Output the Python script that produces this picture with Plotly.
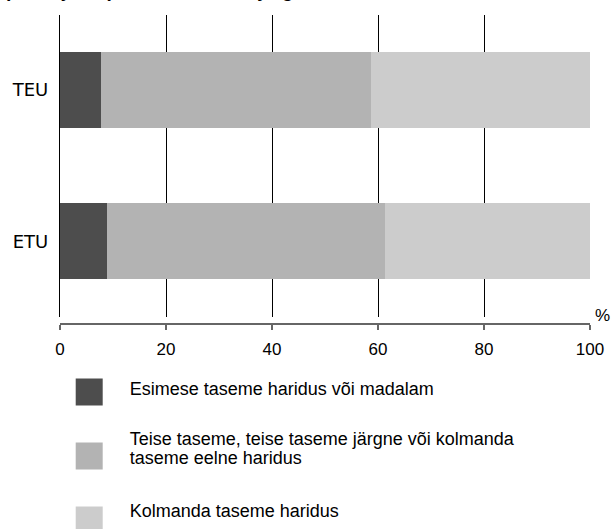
import plotly.graph_objects as go

# ---- data ----
categories = ["TEU", "ETU"]
series_names = [
    "Esimese taseme haridus või madalam",
    "Teise taseme, teise taseme järgne või kolmanda taseme eelne haridus",
    "Kolmanda taseme haridus",
]
legend_lines = [
    ["Esimese taseme haridus või madalam"],
    ["Teise taseme, teise taseme järgne või kolmanda", "taseme eelne haridus"],
    ["Kolmanda taseme haridus"],
]
primary = [7.8, 8.8]
secondary = [50.8, 52.6]
tertiary = [41.4, 38.6]
series_values = [primary, secondary, tertiary]
colors = ["#4d4d4d", "#b3b3b3", "#cccccc"]
x_ticks = [0, 20, 40, 60, 80, 100]
title_text = "(% tööjõust) haridustaseme järgi, 2008"

W, H = 614, 529
left_px, right_px = 60.3, 590.3
plot_top_px, plot_bottom_px = 14.5, 317.0
axis_px = 324.0

def py(px):
    return 1 - px / H

fig = go.Figure()

for name, vals, col in zip(series_names, series_values, colors):
    fig.add_trace(go.Bar(
        y=categories, x=vals, name=name, orientation="h",
        marker=dict(color=col, line=dict(width=0)),
        showlegend=False, hoverinfo="x+name",
    ))

# legend drawn in its own small subplot (pixel-scaled axes)
row_swatch_y = [392 + 64 * i for i in range(3)]
fig.add_trace(go.Scatter(
    x=[89.5] * 3, y=row_swatch_y, mode="markers",
    marker=dict(symbol="square", size=27, color=colors, line=dict(width=0)),
    xaxis="x3", yaxis="y3", showlegend=False, hoverinfo="skip", cliponaxis=False,
))
text_y = []
text_s = []
line_offsets = [[-1.5], [-15, 3.5], [-7]]
for i, lines in enumerate(legend_lines):
    for ln, off in zip(lines, line_offsets[i]):
        text_y.append(row_swatch_y[i] + off)
        text_s.append(ln)
fig.add_trace(go.Scatter(
    x=[130] * len(text_s), y=text_y, mode="text", text=text_s,
    textposition="middle right",
    textfont=dict(family="Liberation Sans, Arial", size=18, color="#000000"),
    xaxis="x3", yaxis="y3", showlegend=False, hoverinfo="skip", cliponaxis=False,
))

fig.update_layout(
    width=W, height=H,
    margin=dict(l=left_px, r=W - right_px, t=0, b=0),
    paper_bgcolor="white", plot_bgcolor="white",
    barmode="stack", bargap=0.497,
    showlegend=False,
    xaxis=dict(
        range=[0, 100], tickvals=x_ticks, ticktext=[str(v) for v in x_ticks],
        showgrid=True, gridcolor="#000000", gridwidth=1,
        zeroline=False, showline=True, linecolor="#666666", linewidth=1.5,
        ticks="outside", ticklen=5, tickcolor="#666666", tickwidth=1.5,
        anchor="free", position=py(axis_px), ticklabelstandoff=5,
        tickfont=dict(family="Liberation Sans, Arial", size=17, color="#000000"),
        fixedrange=True,
    ),
    yaxis=dict(
        domain=[py(plot_bottom_px), py(plot_top_px)],
        categoryorder="array", categoryarray=categories[::-1],
        showgrid=False, zeroline=False,
        showline=True, linecolor="#000000", linewidth=1.3,
        ticks="", ticklabelstandoff=7,
        tickfont=dict(family="DejaVu Sans", size=18, color="#000000"),
        fixedrange=True,
    ),
    xaxis3=dict(domain=[0, 1], range=[left_px, right_px], visible=False,
                anchor="y3", fixedrange=True),
    yaxis3=dict(domain=[0, py(370.3)], range=[H, 370.3], visible=False,
                anchor="x3", fixedrange=True),
    annotations=[
        dict(text="%", xref="paper", yref="paper", x=1, y=py(315),
             xanchor="left", yanchor="middle", xshift=3, showarrow=False,
             font=dict(family="Liberation Sans, Arial", size=17, color="#000000")),
        dict(text="<b>" + title_text + "</b>", xref="paper", yref="paper",
             x=-left_px / (right_px - left_px), y=py(3), xanchor="left",
             yanchor="bottom", showarrow=False, xshift=2,
             font=dict(family="Liberation Sans, Arial", size=19, color="#000000")),
    ],
)

fig.write_html(
    "out.html",
    config={"displayModeBar": False},
    post_script="document.body.style.margin='0';document.body.style.overflow='hidden';",
)
